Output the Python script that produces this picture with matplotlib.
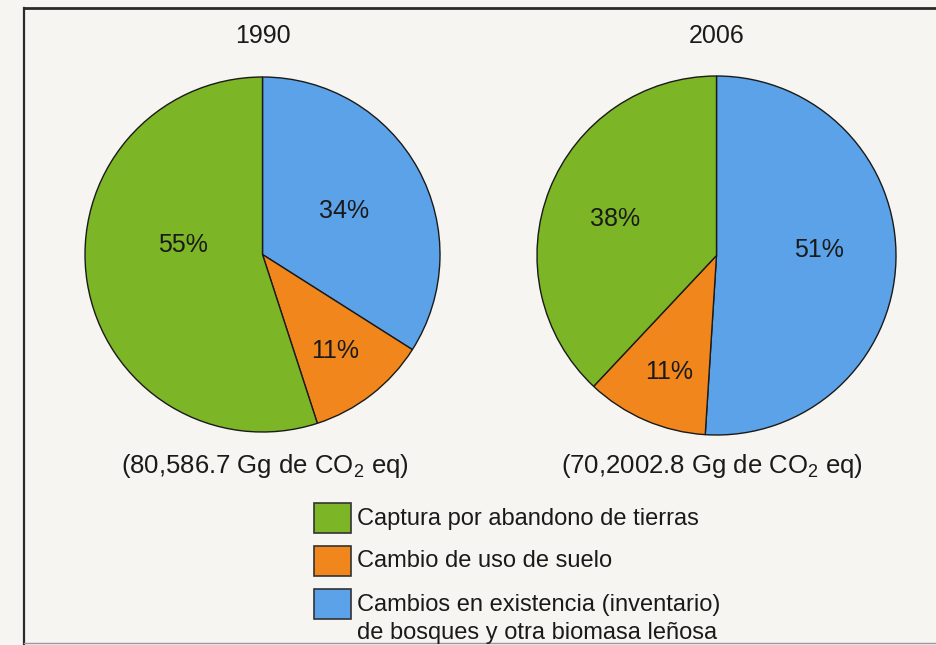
import matplotlib
matplotlib.use("Agg")
import matplotlib.pyplot as plt
from matplotlib.patches import Rectangle
from matplotlib.lines import Line2D
import numpy as np

plt.rcParams['font.family'] = ['Liberation Sans', 'DejaVu Sans']
plt.rcParams['mathtext.fontset'] = 'custom'
plt.rcParams['mathtext.rm'] = 'Liberation Sans'
plt.rcParams['mathtext.it'] = 'Liberation Sans'

# ---- data ----
categories = ["Captura por abandono de tierras",
              "Cambio de uso de suelo",
              "Cambios en existencia (inventario)\nde bosques y otra biomasa leñosa"]
years = ["1990", "2006"]
values_1990 = [55, 11, 34]   # green, orange, blue
values_2006 = [38, 11, 51]
totals = ["80,586.7", "70,2002.8"]
colors = ["#7cb526", "#f1861c", "#5ba2e8"]

W, H = 936, 645
fig = plt.figure(figsize=(W / 100, H / 100), dpi=100)
fig.patch.set_facecolor("#f6f5f1")

def px_axes(cx, cy, r):
    return fig.add_axes([(cx - r) / W, (H - cy - r) / H, 2 * r / W, 2 * r / H])

# label layout: (radius fraction, angle deg) for green, orange, blue
layouts = [
    [(0.45, 173), (0.68, -53), (0.52, 28)],
    [(0.60, 160), (0.70, -112), (0.57, 3)],
]
pies = [(262.5, 254.5, 177.5), (716.5, 255.5, 179.5)]
sub_cx = [265, 712]

for (cx, cy, r), year, vals, tot, lay, scx in zip(pies, years, [values_1990, values_2006],
                                                  totals, layouts, sub_cx):
    ax = px_axes(cx, cy, r)
    # order drawn clockwise from 12 o'clock: blue, orange, green
    order = [2, 1, 0]
    ax.pie([vals[i] for i in order], colors=[colors[i] for i in order],
           startangle=90, counterclock=False, radius=1,
           wedgeprops=dict(edgecolor="#1a1a1a", linewidth=1.0))
    ax.set_xlim(-1.0, 1.0)
    ax.set_ylim(-1.0, 1.0)
    ax.set_aspect("auto")
    ax.axis("off")
    for v, (rr, ang) in zip(vals, lay):
        t = np.deg2rad(ang)
        ax.text(rr * np.cos(t), rr * np.sin(t), f"{v}%", ha="center", va="center",
                fontsize=18, color="#1a1a1a")
    fig.text(cx / W, 1 - 36 / H, year, ha="center", va="center", fontsize=18, color="#1a1a1a")
    fig.text(scx / W, 1 - 466 / H, f"({tot} Gg de CO$_2$ eq)", ha="center", va="center",
             fontsize=18.5, color="#1a1a1a")

# legend
box_x, box_w, box_h = 314, 37, 30
box_tops = [503, 546, 589]
text_y = [519, 561, 619]
for c, lab, top, ty in zip(colors, categories, box_tops, text_y):
    fig.patches.append(Rectangle((box_x / W, 1 - (top + box_h) / H), box_w / W, box_h / H,
                                 transform=fig.transFigure, facecolor=c,
                                 edgecolor="#333333", linewidth=1.2))
    fig.text(357 / W, 1 - ty / H, lab, ha="left", va="center", fontsize=17,
             color="#1a1a1a", linespacing=1.4)

# frame
fig.add_artist(Line2D([24 / W, 24 / W], [0, 1 - 8 / H], transform=fig.transFigure,
                      color="#2a2a2a", linewidth=1.6))
fig.add_artist(Line2D([24 / W, 1], [1 - 8 / H, 1 - 8 / H], transform=fig.transFigure,
                      color="#2a2a2a", linewidth=2.0))
fig.add_artist(Line2D([24 / W, 1], [1 - 643 / H, 1 - 643 / H], transform=fig.transFigure,
                      color="#999999", linewidth=1.0))

fig.savefig("out.png", dpi=100, facecolor=fig.get_facecolor())
